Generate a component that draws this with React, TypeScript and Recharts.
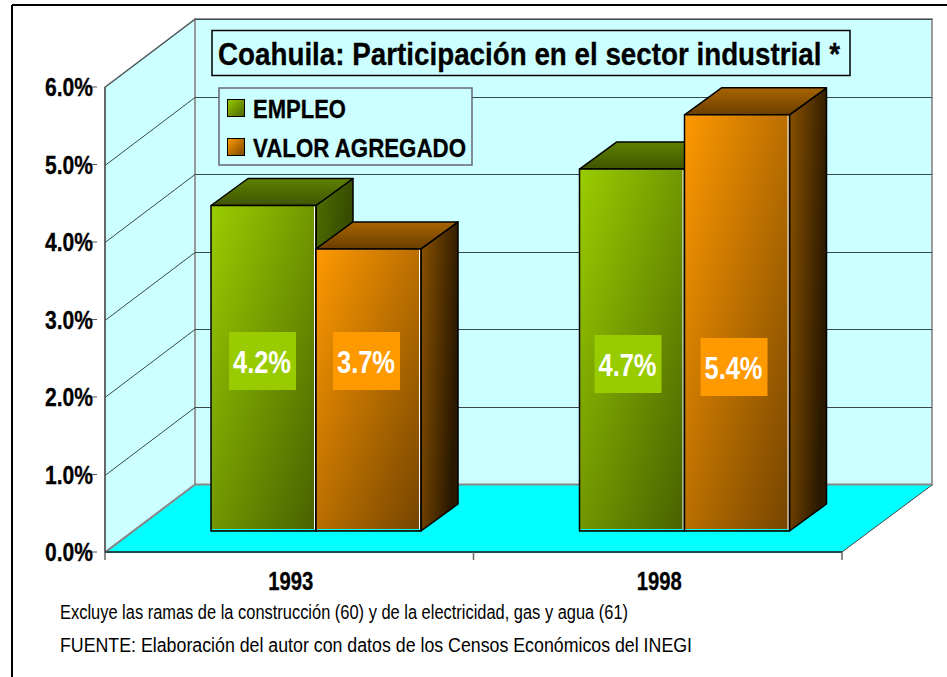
import React from 'react';
import { BarChart, Bar, XAxis, YAxis, CartesianGrid, Legend, LabelList } from 'recharts';

const years = ['1993', '1998'];
const empleo = [4.2, 4.67];
const valorAgregado = [3.64, 5.37];
const empleoLabels = ['4.2%', '4.7%'];
const valorLabels = ['3.7%', '5.4%'];
const yTicks = [0, 1, 2, 3, 4, 5, 6];

const chartData = years.map((year, i) => ({
  year,
  empleo: empleo[i],
  valor: valorAgregado[i],
}));

// layout of the fake 3D box, in page pixels
const WIDTH = 947;
const HEIGHT = 677;
const LEFT = 105;
const RIGHT = 842;
const TOP = 87;
const BOTTOM = 552;
const WALL_DX = 90;
const WALL_DY = 67;
const BAR_SHIFT_X = 27;
const BAR_SHIFT_Y = 21;
const BAR_DX = 37;
const BAR_DY = 27;
const BAND = (RIGHT - LEFT) / years.length;
const FONT = '"Liberation Sans", Arial, sans-serif';
const WALL = '#CCFFFF';

const empleoLabelY = [361, 364];
const valorLabelY = [361, 367];

const Box3D = (props: any) => {
  const { x, y, width, height, front, side, top } = props;
  const l = x + BAR_SHIFT_X;
  const r = l + width;
  const t = y - BAR_SHIFT_Y;
  const b = t + height;
  return (
    <g stroke="#000" strokeWidth={1.5} strokeLinejoin="round">
      <polygon points={`${r},${t} ${r + BAR_DX},${t - BAR_DY} ${r + BAR_DX},${b - BAR_DY} ${r},${b}`} fill={`url(#${side})`} />
      <polygon points={`${l},${t} ${l + BAR_DX},${t - BAR_DY} ${r + BAR_DX},${t - BAR_DY} ${r},${t}`} fill={`url(#${top})`} />
      <rect x={l} y={t} width={width} height={height} fill={`url(#${front})`} />
      <line x1={r - 1.5} y1={t + 1} x2={r - 1.5} y2={b - 1} stroke="#fff" strokeWidth={1} />
      <line x1={l + 1} y1={b - 1.5} x2={r - 1} y2={b - 1.5} stroke="#00FFFF" strokeWidth={1} />
    </g>
  );
};

const boxLabel = (labels: string[], ys: number[], color: string, nudge: number[]) => (props: any) => {
  const { x, index } = props;
  const cx = x + BAR_SHIFT_X + nudge[index];
  const cy = ys[index];
  return (
    <g>
      <rect x={cx - 33.5} y={cy - 29} width={67} height={58} fill={color} />
      <text
        x={cx - 0.5}
        y={cy + 12}
        textAnchor="middle"
        textLength={58}
        lengthAdjust="spacingAndGlyphs"
        fontFamily={FONT}
        fontWeight="bold"
        fontSize={32}
        fill="#fff"
      >
        {labels[index]}
      </text>
    </g>
  );
};

const YTick = (props: any) => {
  const { x, y, payload } = props;
  return (
    <g>
      <line x1={x - 8} y1={y} x2={x} y2={y} stroke="#555" />
      <text
        x={45}
        y={y + 9}
        textLength={48}
        lengthAdjust="spacingAndGlyphs"
        fontFamily={FONT}
        fontWeight="bold"
        fontSize={25}
        fill="#000"
        stroke="#000"
        strokeWidth={0.3}
      >
        {`${payload.value.toFixed(1)}%`}
      </text>
    </g>
  );
};

const XTick = (props: any) => {
  const { x, payload, index } = props;
  return (
    <g>
      <line x1={x - BAND / 2} y1={BOTTOM} x2={x - BAND / 2} y2={BOTTOM + 8} stroke="#666" strokeWidth={1.5} />
      {index === years.length - 1 && (
        <line x1={x + BAND / 2} y1={BOTTOM} x2={x + BAND / 2} y2={BOTTOM + 8} stroke="#666" strokeWidth={1.5} />
      )}
      <text
        x={x + 1.5}
        y={590}
        textAnchor="middle"
        textLength={45}
        lengthAdjust="spacingAndGlyphs"
        fontFamily={FONT}
        fontWeight="bold"
        fontSize={25}
        fill="#000"
        stroke="#000"
        strokeWidth={0.3}
      >
        {payload.value}
      </text>
    </g>
  );
};

// each gridline runs along the side wall and then across the back wall
const gridLine = (props: any) => {
  const { y1, key } = props;
  const y = Math.round(y1) + 0.5;
  const isZero = Math.abs(y1 - BOTTOM) < 1;
  return (
    <polyline
      key={key}
      points={`${LEFT},${y} ${LEFT + WALL_DX},${y - WALL_DY - 1} ${RIGHT + WALL_DX},${y - WALL_DY - 1}`}
      fill="none"
      stroke={isZero ? '#888' : '#3a4a4a'}
      strokeWidth={isZero ? 2 : 1}
    />
  );
};

const LegendBox = () => (
  <svg width={280} height={80} style={{ display: 'block' }}>
    <rect x={1} y={1} width={253} height={77} fill={WALL} stroke="#667" strokeWidth={1.5} />
    <rect x={9.5} y={12.5} width={17} height={17} fill="url(#legendGreen)" stroke="#000" />
    <rect x={9.5} y={51.5} width={17} height={17} fill="url(#legendOrange)" stroke="#000" />
    <text x={35} y={31} textLength={93} lengthAdjust="spacingAndGlyphs" fontFamily={FONT} fontWeight="bold" fontSize={25} stroke="#000" strokeWidth={0.3}>
      EMPLEO
    </text>
    <text x={35} y={70} textLength={213} lengthAdjust="spacingAndGlyphs" fontFamily={FONT} fontWeight="bold" fontSize={25} stroke="#000" strokeWidth={0.3}>
      VALOR AGREGADO
    </text>
  </svg>
);

const gradient = (id: string, c1: string, c2: string, x2 = 1, y2 = 1) => (
  <linearGradient id={id} x1={0} y1={0} x2={x2} y2={y2}>
    <stop offset="0%" stopColor={c1} />
    <stop offset="100%" stopColor={c2} />
  </linearGradient>
);

const App = () => {
  const floor = `${LEFT},${BOTTOM} ${RIGHT},${BOTTOM} ${RIGHT + WALL_DX},${BOTTOM - WALL_DY} ${LEFT + WALL_DX},${BOTTOM - WALL_DY}`;
  const sideWall = `${LEFT},${TOP} ${LEFT + WALL_DX},${TOP - 68} ${LEFT + WALL_DX},${BOTTOM - WALL_DY} ${LEFT},${BOTTOM}`;

  return (
    <div style={{ position: 'absolute', left: 0, top: 0, width: WIDTH, height: HEIGHT, background: '#fff', overflow: 'hidden' }}>
      <svg width={WIDTH} height={HEIGHT} style={{ position: 'absolute', left: 0, top: 0 }}>
        <defs>
          {gradient('greenFront', '#9ACD00', '#486000')}
          {gradient('greenSide', '#4F6E00', '#1F2A00')}
          {gradient('greenTop', '#5F8000', '#3F5500', 0, 1)}
          {gradient('orangeFront', '#FF9900', '#744400')}
          {gradient('orangeSide', '#8A5200', '#2A1800', 1, 0.35)}
          {gradient('orangeTop', '#A86400', '#6A3E00', 0, 1)}
          {gradient('legendGreen', '#99CC00', '#4A6400')}
          {gradient('legendOrange', '#FF9900', '#7A4800')}
        </defs>
        <line x1={12} y1={5} x2={WIDTH} y2={5} stroke="#000" strokeWidth={2} />
        <line x1={12} y1={5} x2={12} y2={HEIGHT} stroke="#000" strokeWidth={2} />
        <polygon points={sideWall} fill={WALL} stroke="#888" strokeWidth={1.5} />
        <rect
          x={LEFT + WALL_DX}
          y={TOP - 68}
          width={RIGHT - LEFT}
          height={BOTTOM - WALL_DY - TOP + 68}
          fill={WALL}
          stroke="#999"
          strokeWidth={2}
        />
        <polygon points={floor} fill="#00FFFF" />
        <line x1={RIGHT} y1={BOTTOM} x2={RIGHT + WALL_DX} y2={BOTTOM - WALL_DY} stroke="#444" />
      </svg>

      <div style={{ position: 'absolute', left: 0, top: 0 }}>
        <BarChart
          width={WIDTH}
          height={HEIGHT}
          data={chartData}
          margin={{ top: TOP, right: WIDTH - RIGHT, bottom: 0, left: 0 }}
          barGap={0}
          barSize={105}
        >
          <CartesianGrid horizontal={gridLine} vertical={false} />
          <XAxis
            dataKey="year"
            height={HEIGHT - BOTTOM}
            axisLine={{ stroke: '#1a4a4a', strokeWidth: 2 }}
            tickLine={false}
            tick={<XTick />}
            interval={0}
          />
          <YAxis
            width={LEFT}
            domain={[0, 6]}
            ticks={yTicks}
            axisLine={{ stroke: '#555', strokeWidth: 1.5 }}
            tickLine={false}
            tick={<YTick />}
            interval={0}
          />
          <Legend
            layout="horizontal"
            verticalAlign="middle"
            content={<LegendBox />}
            wrapperStyle={{ position: 'absolute', left: 218, top: 87, width: 280, height: 80, bottom: 'auto' }}
          />
          <Bar
            dataKey="empleo"
            name="EMPLEO"
            fill="#99CC00"
            isAnimationActive={false}
            shape={<Box3D front="greenFront" side="greenSide" top="greenTop" />}
          >
            <LabelList dataKey="empleo" content={boxLabel(empleoLabels, empleoLabelY, '#99CC00', [51.5, 48.5])} />
          </Bar>
          <Bar
            dataKey="valor"
            name="VALOR AGREGADO"
            fill="#FF9900"
            isAnimationActive={false}
            shape={<Box3D front="orangeFront" side="orangeSide" top="orangeTop" />}
          >
            <LabelList dataKey="valor" content={boxLabel(valorLabels, valorLabelY, '#FF9900', [50.5, 49.5])} />
          </Bar>
        </BarChart>
      </div>

      <svg width={WIDTH} height={HEIGHT} style={{ position: 'absolute', left: 0, top: 0, pointerEvents: 'none' }}>
        <rect x={212} y={30.5} width={638} height={45} fill={WALL} stroke="#000" strokeWidth={1.5} />
        <text x={218} y={65} textLength={622} lengthAdjust="spacingAndGlyphs" fontFamily={FONT} fontWeight="bold" fontSize={32} stroke="#000" strokeWidth={0.3}>
          Coahuila: Participación en el sector industrial *
        </text>
        <text x={60} y={619} textLength={568} lengthAdjust="spacingAndGlyphs" fontFamily={FONT} fontSize={20}>
          Excluye las ramas de la construcción (60) y de la electricidad, gas y agua (61)
        </text>
        <text x={60} y={652} textLength={632} lengthAdjust="spacingAndGlyphs" fontFamily={FONT} fontSize={20}>
          FUENTE: Elaboración del autor con datos de los Censos Económicos del INEGI
        </text>
      </svg>
    </div>
  );
};

export default App;
